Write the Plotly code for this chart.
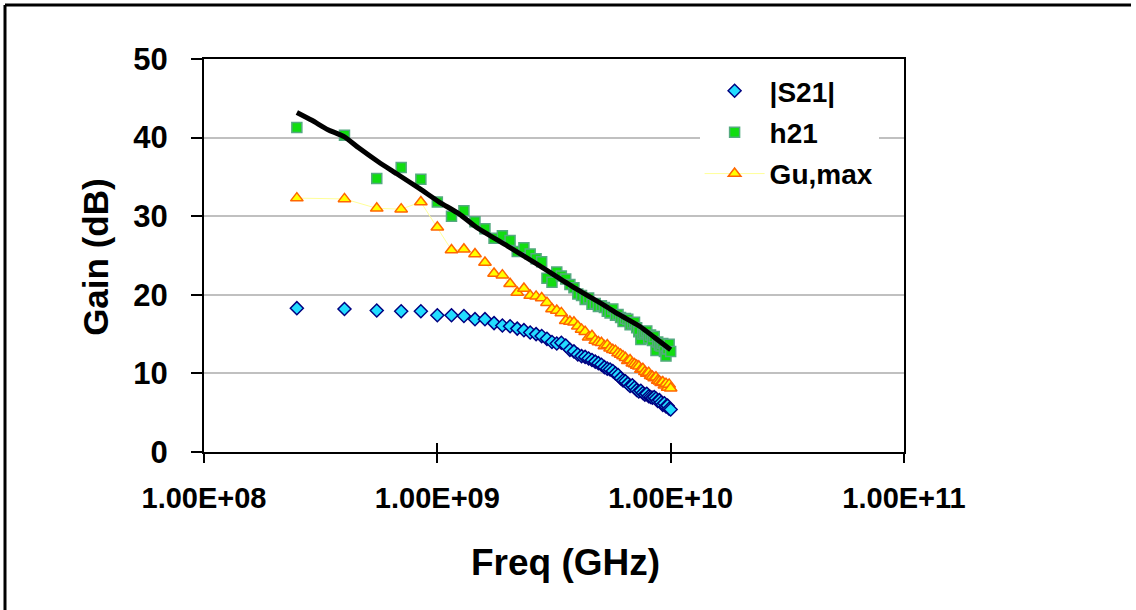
import plotly.graph_objects as go

# Frequency sweep (GHz)
freq_ghz = [0.25, 0.40, 0.55, 0.70, 0.85, 1.00, 1.15, 1.30, 1.45, 1.60, 1.75, 1.90,
            2.05, 2.20, 2.35, 2.50, 2.65, 2.80, 2.95, 3.10, 3.25, 3.40, 3.55, 3.70,
            3.85, 4.00, 4.15, 4.30, 4.45, 4.60, 4.75, 4.90, 5.05, 5.20, 5.35, 5.50,
            5.65, 5.80, 5.95, 6.10, 6.25, 6.40, 6.55, 6.70, 6.85, 7.00, 7.15, 7.30,
            7.45, 7.60, 7.75, 7.90, 8.05, 8.20, 8.35, 8.50, 8.65, 8.80, 8.95, 9.10,
            9.25, 9.40, 9.55, 9.70, 9.85, 10.00]

s21_db = [18.3, 18.2, 18.0, 17.9, 17.9, 17.4, 17.4, 17.3, 16.9, 16.9, 16.4, 16.1,
          16.0, 15.7, 15.5, 15.2, 15.0, 14.75, 14.4, 14.0, 13.8, 13.9, 13.55, 13.0,
          12.8, 12.4, 12.2, 12.1, 11.9, 11.7, 11.5, 11.3, 11.1, 10.8, 10.6, 10.5,
          10.3, 10.0, 9.8, 9.4, 9.1, 9.0, 8.7, 8.4, 8.5, 8.2, 7.9, 7.7,
          7.8, 7.5, 7.3, 7.4, 7.1, 7.0, 6.9, 7.0, 6.8, 6.5, 6.6, 6.3,
          6.0, 6.2, 5.8, 5.9, 5.5, 5.4]

h21_db = [41.3, 40.3, 34.8, 36.2, 34.7, 31.8, 30.0, 30.7, 29.3, 28.4, 27.2, 27.5,
          26.9, 25.5, 26.0, 25.2, 24.6, 24.2, 22.1, 21.6, 22.9, 22.4, 22.0, 21.3,
          20.9, 20.1, 19.9, 19.4, 19.6, 18.8, 18.9, 18.5, 18.6, 18.4, 17.9, 17.7,
          18.2, 17.4, 17.5, 17.1, 16.6, 17.0, 16.9, 16.2, 16.4, 16.5, 15.8, 15.3,
          14.3, 15.0, 15.2, 15.4, 14.5, 14.9, 14.2, 14.7, 12.9, 14.0, 13.6, 13.5,
          13.8, 12.8, 12.2, 13.1, 13.7, 12.8]

gu_db = [32.3, 32.2, 31.0, 30.9, 31.8, 28.6, 25.7, 25.8, 25.2, 24.1, 22.7, 22.5,
         21.4, 20.3, 20.8, 19.9, 19.8, 19.6, 19.0, 18.2, 18.0, 17.7, 16.7, 16.6,
         16.5, 16.0, 15.6, 15.3, 14.6, 14.8, 14.2, 14.0, 13.9, 13.5, 13.6, 13.2,
         13.0, 12.9, 12.6, 12.4, 12.2, 12.0, 11.6, 11.7, 11.3, 11.2, 11.0, 10.9,
         10.5, 10.6, 10.2, 10.0, 10.1, 9.7, 9.6, 9.4, 9.5, 9.1, 9.0, 8.8,
         8.9, 8.5, 8.7, 8.2, 8.6, 8.1]

# Trend line for h21
fit_freq_ghz = [0.25, 0.29, 0.34, 0.40, 0.46, 0.56, 0.67, 0.84, 1.02, 1.24, 1.47,
                2.0, 2.74, 3.81, 5.3, 6.0, 7.36, 8.5, 10.0]
fit_db = [43.2, 42.2, 41.0, 40.1, 38.7, 36.9, 35.4, 33.5, 31.8, 30.3, 28.6,
          26.2, 23.7, 21.0, 18.5, 17.5, 16.0, 14.6, 13.0]

x_tick_vals = [1e8, 1e9, 1e10, 1e11]
x_tick_text = ["1.00E+08", "1.00E+09", "1.00E+10", "1.00E+11"]
y_tick_vals = [0, 10, 20, 30, 40, 50]

freq_hz = [f * 1e9 for f in freq_ghz]
fit_freq_hz = [f * 1e9 for f in fit_freq_ghz]

FONT = "Liberation Sans, Arial, sans-serif"

fig = go.Figure()

fig.add_trace(go.Scatter(
    x=freq_hz, y=s21_db, mode="markers", name="|S21|", legendgroup="a",
    marker=dict(symbol="diamond", size=10, color="#22DDFF",
                line=dict(color="#000080", width=1.5))))

fig.add_trace(go.Scatter(
    x=freq_hz, y=h21_db, mode="markers", name="h21", legendgroup="b",
    marker=dict(symbol="square", size=10, color="#11DD11",
                line=dict(color="#55AA80", width=1.5))))

fig.add_trace(go.Scatter(
    x=freq_hz, y=gu_db, mode="lines+markers", name="Gu,max", legendgroup="c",
    line=dict(color="#FFFF99", width=1),
    marker=dict(symbol="triangle-up", size=11, color="#FFFF00",
                line=dict(color="#FF6600", width=1.5))))

fig.add_trace(go.Scatter(
    x=fit_freq_hz, y=fit_db, mode="lines", name="fit", showlegend=False,
    line=dict(color="black", width=5, shape="spline", smoothing=0.6)))

# invisible trace to host the crossing-tick overlay axis
fig.add_trace(go.Scatter(x=[1e9], y=[0], xaxis="x2", yaxis="y", mode="markers",
                         marker=dict(opacity=0), showlegend=False, hoverinfo="skip"))

left_px = (5 - 204) / 700
right_px = (1131 - 204) / 700
top_px = (452 - 5) / 393

fig.update_layout(
    width=1136, height=610,
    margin=dict(l=204, r=232, t=59, b=158),
    paper_bgcolor="white", plot_bgcolor="white",
    font=dict(family=FONT, color="black"),
    showlegend=True,
    legend=dict(x=0.708, y=0.982, xanchor="left", yanchor="top",
                bgcolor="white", borderwidth=0,
                font=dict(family=FONT, size=28, weight="bold", color="black"),
                tracegroupgap=2, itemwidth=60),
    xaxis=dict(type="log", range=[8, 11], tickvals=x_tick_vals, ticktext=x_tick_text,
               showgrid=False, zeroline=False,
               showline=True, linecolor="black", linewidth=2, mirror=True,
               ticks="outside", ticklen=9, tickwidth=1.5, tickcolor="black",
               ticklabelstandoff=10,
               tickfont=dict(family=FONT, size=29, weight="bold", color="black")),
    xaxis2=dict(type="log", range=[8, 11], overlaying="x", anchor="y", side="bottom",
                tickvals=x_tick_vals, showticklabels=False, showgrid=False,
                zeroline=False, showline=False,
                ticks="inside", ticklen=9, tickwidth=1.5, tickcolor="black"),
    yaxis=dict(range=[0, 50], tickvals=y_tick_vals,
               showgrid=True, gridcolor="#C0C0C0", gridwidth=2, zeroline=False,
               showline=True, linecolor="black", linewidth=2, mirror=True,
               ticks="outside", ticklen=11, tickwidth=1.5, tickcolor="black",
               ticklabelstandoff=17,
               tickfont=dict(family=FONT, size=31, weight="bold", color="black")),
    annotations=[
        dict(text="Freq (GHz)", xref="paper", yref="paper", x=0.517, y=-0.282,
             xanchor="center", yanchor="middle", showarrow=False,
             font=dict(family=FONT, size=37, weight="bold", color="black")),
        dict(text="Gain (dB)", xref="paper", yref="paper", x=-0.156, y=0.496,
             xanchor="center", yanchor="middle", showarrow=False, textangle=-90,
             font=dict(family=FONT, size=35, weight="bold", color="black")),
    ],
    shapes=[
        dict(type="line", xref="paper", yref="paper",
             x0=left_px, x1=left_px, y0=-1.0, y1=top_px,
             line=dict(color="black", width=3), layer="above"),
        dict(type="line", xref="paper", yref="paper",
             x0=left_px, x1=right_px, y0=top_px, y1=top_px,
             line=dict(color="black", width=3), layer="above"),
    ],
)

fig.write_html("out.html", config={"displayModeBar": False},
               post_script="document.body.style.margin='0';document.body.style.overflow='hidden';")
